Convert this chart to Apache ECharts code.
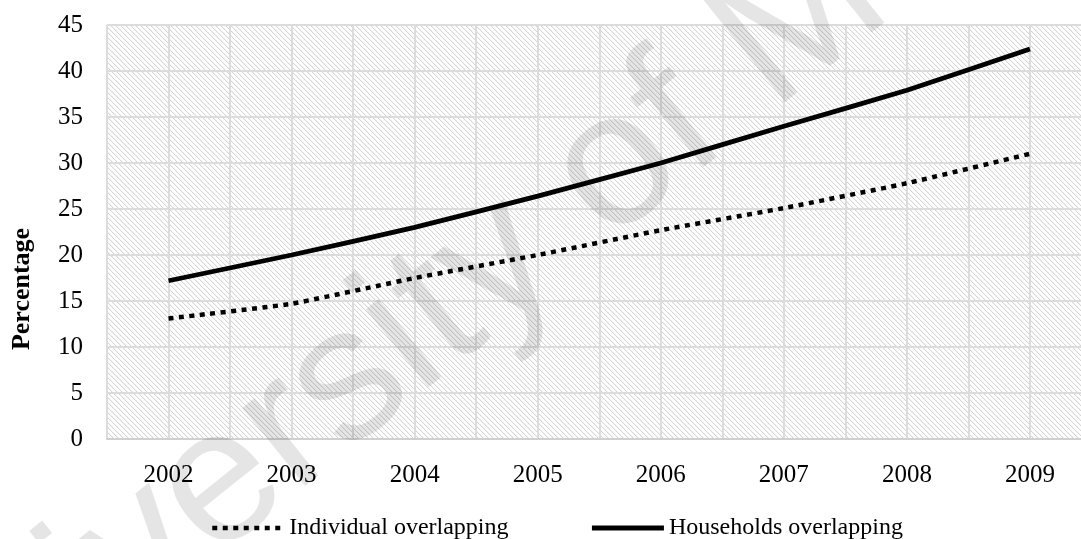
<!DOCTYPE html>
<html>
<head>
<meta charset="utf-8">
<script src="https://cdn.jsdelivr.net/npm/echarts@6/dist/echarts.min.js"></script>
<style>
  html, body { margin: 0; padding: 0; background: #ffffff; }
  #chart { width: 1081px; height: 539px; }
</style>
</head>
<body>
<div id="chart"></div>
<script>
// Years on the category axis
const years = ['2002', '2003', '2004', '2005', '2006', '2007', '2008', '2009'];
// Overlap shares, in percent
const individualOverlapping = [13.1, 14.7, 17.5, 20.0, 22.7, 25.1, 27.8, 31.0];
const householdsOverlapping = [17.2, 20.0, 23.0, 26.4, 30.0, 34.0, 37.9, 42.4];
// Value axis range
const yMin = 0;
const yMax = 45;
const yStep = 5;
// Series names shown in the legend
const seriesNames = ['Individual overlapping', 'Households overlapping'];

const serif = '"Liberation Serif", "Times New Roman", serif';

// Small tile with a thin "\" diagonal, repeated over the plot area
function hatchTile() {
  const n = 5;
  const c = document.createElement('canvas');
  c.width = n; c.height = n;
  const ctx = c.getContext('2d');
  const img = ctx.createImageData(n, n);
  const put = (x, y, v) => {
    const k = (y * n + x) * 4;
    img.data[k] = v; img.data[k + 1] = v; img.data[k + 2] = v; img.data[k + 3] = 255;
  };
  for (let y = 0; y < n; y++) for (let x = 0; x < n; x++) put(x, y, 255);
  for (let i = 0; i < n; i++) {
    put(i, i, 214);
    put((i + 1) % n, i, 244);
  }
  ctx.putImageData(img, 0, 0);
  return c;
}

const chart = echarts.init(document.getElementById('chart'), null, { renderer: 'canvas' });

const gridColor = '#dcdcdc';

chart.setOption({
  animation: false,
  backgroundColor: '#ffffff',
  grid: {
    left: 107, right: -10.5, top: 25, bottom: 100,
    containLabel: false,
    outerBoundsMode: 'none',
    show: true,
    borderWidth: 0,
    backgroundColor: { image: hatchTile(), repeat: 'repeat' }
  },
  graphic: [{
    type: 'text',
    x: -117, y: 757,
    rotation: 0.675,
    z: 1,
    silent: true,
    style: {
      text: 'University of Malaya',
      fontSize: 190,
      fontFamily: '"Liberation Sans", Arial, sans-serif',
      fill: 'rgba(0,0,0,0.1)',
      verticalAlign: 'middle'
    }
  }],
  legend: {
    left: 205, top: 511,
    itemWidth: 72, itemHeight: 14, itemGap: 81,
    itemStyle: { color: 'rgba(0,0,0,0)', borderWidth: 0 },
    lineStyle: { width: 'inherit' },
    textStyle: { fontFamily: serif, fontSize: 24, color: '#000' },
    data: seriesNames
  },
  xAxis: [{
    type: 'category',
    data: years,
    boundaryGap: true,
    axisLine: { show: true, lineStyle: { color: '#d0d0d0', width: 2 } },
    axisTick: { show: false },
    axisLabel: { fontFamily: serif, fontSize: 25, color: '#000', margin: 24 },
    splitLine: { show: false }
  }, {
    // half-category vertical gridlines
    type: 'value',
    min: 0, max: 16, interval: 1,
    axisLine: { show: false }, axisTick: { show: false }, axisLabel: { show: false },
    splitLine: { show: true, lineStyle: { color: gridColor, width: 2 } }
  }],
  yAxis: {
    type: 'value',
    min: yMin, max: yMax, interval: yStep,
    name: 'Percentage',
    nameLocation: 'middle',
    nameGap: 72,
    nameTextStyle: {
      fontFamily: serif, fontSize: 26, fontWeight: 'bold', color: '#000',
      padding: [0, 114, 0, 0]
    },
    axisLine: { show: false },
    axisTick: { show: false },
    axisLabel: { fontFamily: serif, fontSize: 25, color: '#000', margin: 24 },
    splitLine: { show: true, lineStyle: { color: gridColor, width: 2 } }
  },
  series: [{
    name: seriesNames[0],
    type: 'line',
    data: individualOverlapping,
    symbol: 'none',
    smooth: 0.12,
    z: 3,
    lineStyle: { color: '#000', width: 4.5, type: [5, 5.5], cap: 'butt' },
    itemStyle: { color: '#000' }
  }, {
    name: seriesNames[1],
    type: 'line',
    data: householdsOverlapping,
    symbol: 'none',
    smooth: 0.12,
    z: 3,
    lineStyle: { color: '#000', width: 4.8, type: 'solid' },
    itemStyle: { color: '#000' }
  }]
});
</script>
</body>
</html>
